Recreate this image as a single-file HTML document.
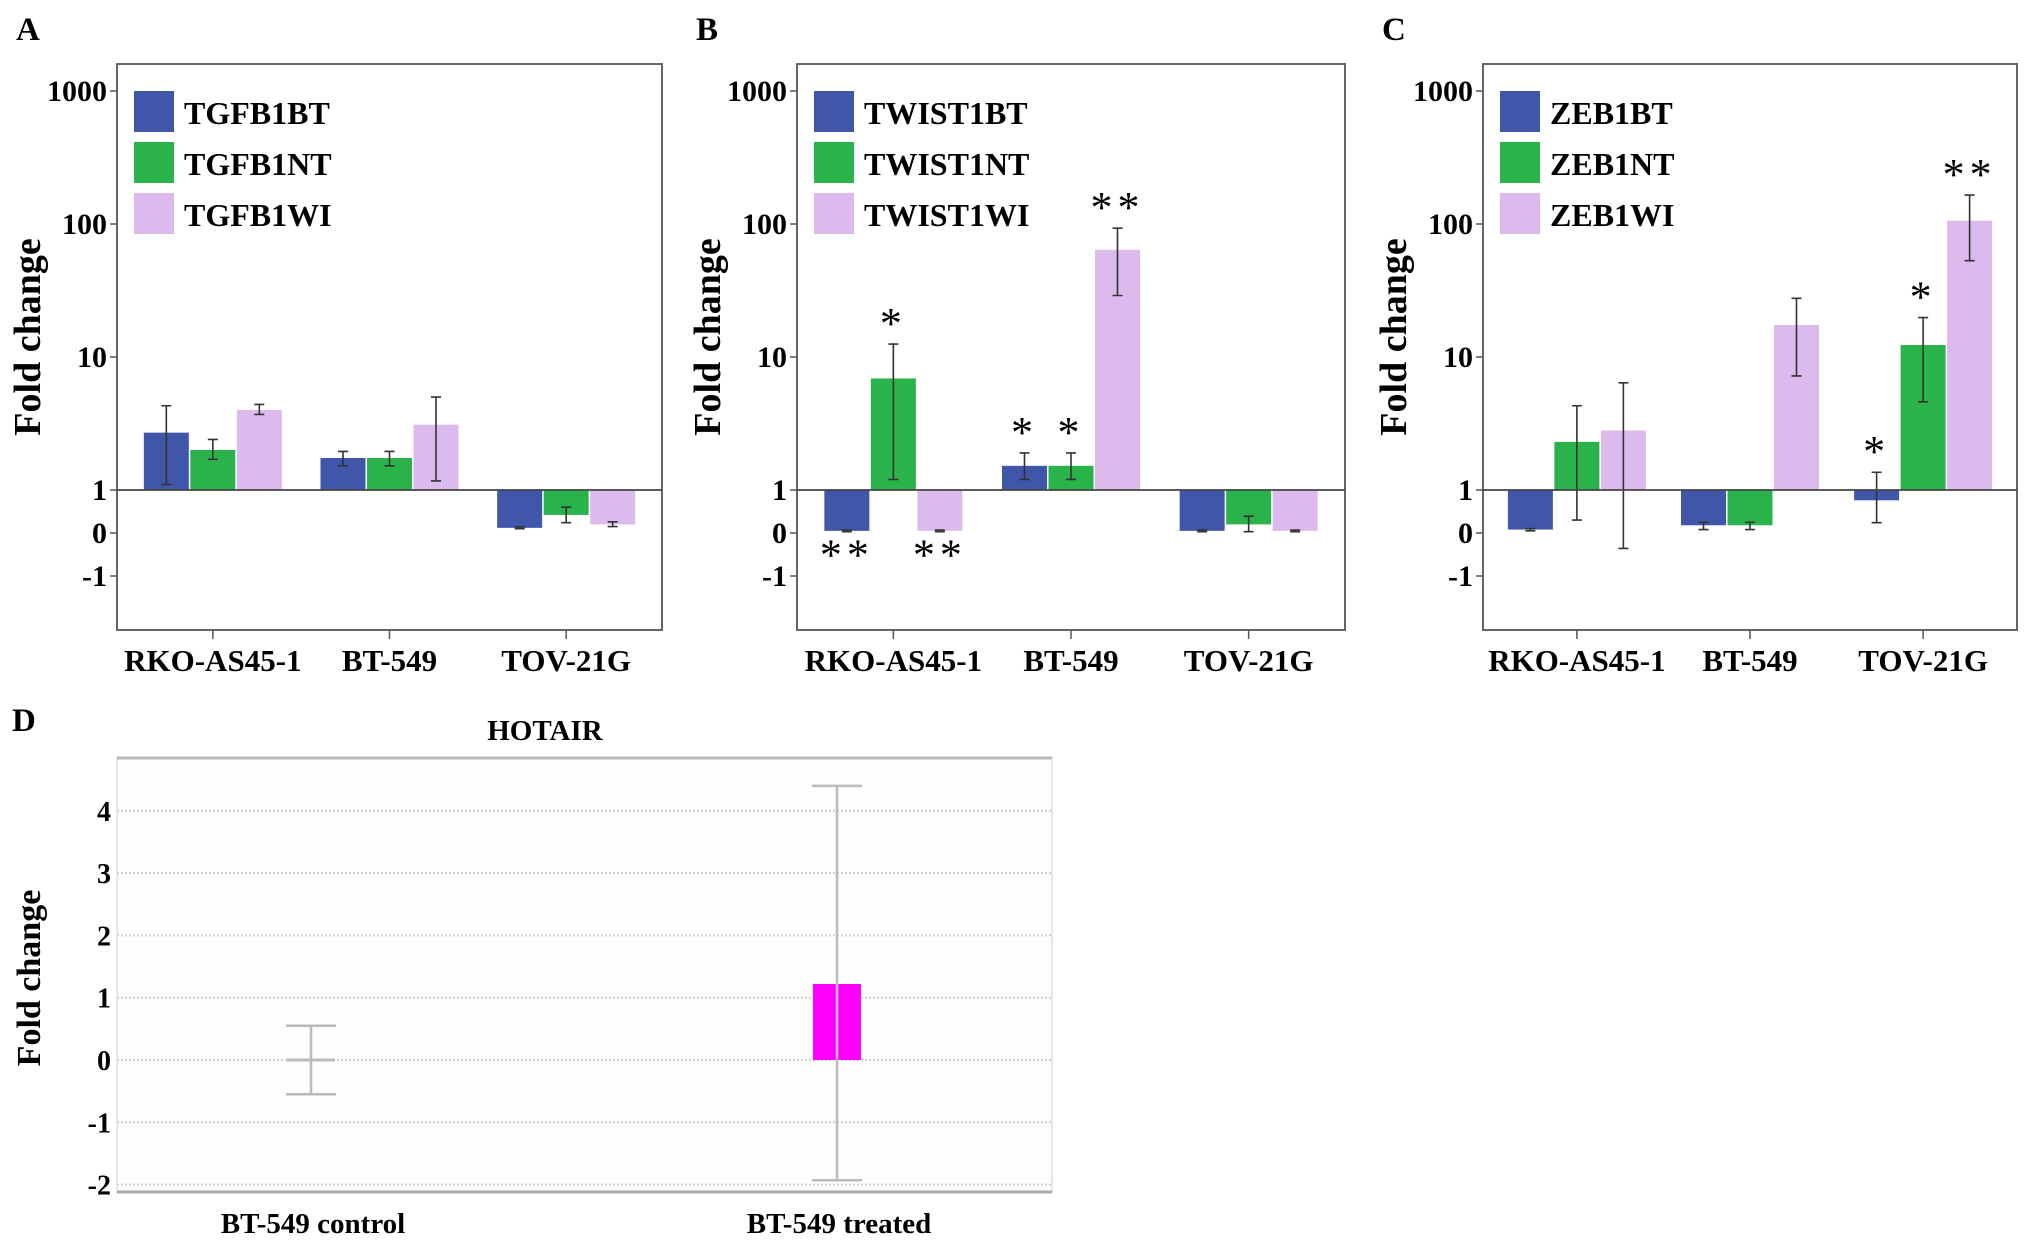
<!DOCTYPE html>
<html><head><meta charset="utf-8">
<style>
html,body{margin:0;padding:0;background:#fff;}
svg{display:block;font-family:"Liberation Serif",serif;font-weight:bold;}
text{font-family:"Liberation Serif",serif;}
</style></head>
<body>
<svg id="fig" width="2031" height="1246" viewBox="0 0 2031 1246" xmlns="http://www.w3.org/2000/svg">
<g id="panels"></g>
</svg>
<script>
// ---------- data ----------
const categories = ["RKO-AS45-1", "BT-549", "TOV-21G"];
const yTicks = [1000, 100, 10, 1];
const yTickLabels = ["1000", "100", "10", "1", "0", "-1"];

// Panel A (TGFB1)
const seriesA = ["TGFB1BT", "TGFB1NT", "TGFB1WI"];
const valuesA_BT = [2.7, 1.74, 0.12];
const valuesA_NT = [2.0, 1.74, 0.42];
const valuesA_WI = [4.0, 3.1, 0.2];
const errHiA_BT = [4.3, 1.95, 0.14];
const errLoA_BT = [1.1, 1.52, 0.1];
const errHiA_NT = [2.4, 1.95, 0.6];
const errLoA_NT = [1.7, 1.52, 0.24];
const errHiA_WI = [4.4, 5.0, 0.26];
const errLoA_WI = [3.7, 1.17, 0.15];
const starsA_BT = ["", "", ""];
const starsA_NT = ["", "", ""];
const starsA_WI = ["", "", ""];

// Panel B (TWIST1)
const seriesB = ["TWIST1BT", "TWIST1NT", "TWIST1WI"];
const valuesB_BT = [0.05, 1.52, 0.05];
const valuesB_NT = [6.9, 1.52, 0.2];
const valuesB_WI = [0.05, 64, 0.05];
const errHiB_BT = [0.07, 1.9, 0.07];
const errLoB_BT = [0.03, 1.2, 0.03];
const errHiB_NT = [12.5, 1.9, 0.39];
const errLoB_NT = [1.2, 1.2, 0.03];
const errHiB_WI = [0.07, 93, 0.07];
const errLoB_WI = [0.03, 29, 0.03];
const starsB_BT = ["**", "*", ""];
const starsB_NT = ["*", "*", ""];
const starsB_WI = ["**", "**", ""];

// Panel C (ZEB1)
const seriesC = ["ZEB1BT", "ZEB1NT", "ZEB1WI"];
const valuesC_BT = [0.08, 0.18, 0.76];
const valuesC_NT = [2.3, 0.18, 12.3];
const valuesC_WI = [2.8, 17.4, 106];
const errHiC_BT = [0.1, 0.25, 1.36];
const errLoC_BT = [0.05, 0.08, 0.24];
const errHiC_NT = [4.3, 0.25, 19.8];
const errLoC_NT = [0.3, 0.08, 4.6];
const errHiC_WI = [6.4, 27.6, 165];
const errLoC_WI = [-0.36, 7.2, 53];
const starsC_BT = ["", "", "*"];
const starsC_NT = ["", "", "*"];
const starsC_WI = ["", "", "**"];

// Panel D (HOTAIR)
const categoriesD = ["BT-549 control", "BT-549 treated"];
const valuesD = [0, 1.22];
const errHiD = [0.55, 4.4];
const errLoD = [-0.55, -1.93];
const yTicksD = [4, 3, 2, 1, 0, -1, -2];

// ---------- drawing ----------
const NS = "http://www.w3.org/2000/svg";
const root = document.getElementById("panels");
function mk(tag, attrs, parent, text) {
  const e = document.createElementNS(NS, tag);
  for (const k in attrs) e.setAttribute(k, attrs[k]);
  if (text !== undefined) e.textContent = text;
  (parent || root).appendChild(e);
  return e;
}
const COLORS = ["#3f56a9", "#2bb34b", "#dcbaee"];
const TOP = 64, BOT = 630, Y1 = 490, DEC = 133, LIN = 43;
function yv(v) { return v >= 1 ? Y1 - Math.log10(v) * DEC : Y1 + (1 - v) * LIN; }

function drawPanel(letter, fx0, fx1, series, vals, his, los, stars, key) {
  const g = mk("g", {});
  
  
  const t = mk("text", {x: fx0 - 101, y: 40, "font-size": 33}, g, letter);
  
  
  const fr = mk("rect", {x: fx0, y: TOP, width: fx1 - fx0, height: BOT - TOP, fill: "none", stroke: "#666", "stroke-width": 2}, g);
  
  
  const tickVals = [1000, 100, 10, 1, 0, -1];
  tickVals.forEach((tv, i) => {
    const y = yv(tv);
    mk("line", {x1: fx0 - 7, x2: fx0, y1: y, y2: y, stroke: "#555", "stroke-width": 1.5}, g);
    const lab = mk("text", {x: fx0 - 10, y: y + 10, "font-size": 30, "text-anchor": "end"}, g, yTickLabels[i]);
    
    
  });
  const yt = mk("text", {x: 0, y: 0, "font-size": 38, "text-anchor": "middle", transform: `translate(${fx0 - 77},337) rotate(-90)`}, g, "Fold change");
  
  
  const sc = (fx1 - fx0) / 546;
  const offs = [96, 273, 450].map(o => fx0 + o * sc);
  for (let s = 0; s < 3; s++) {
    for (let c = 0; c < 3; c++) {
      const v = vals[s][c];
      const cx = offs[c] + (s - 1) * 46.5;
      const y = yv(v);
      const r = mk("rect", {x: cx - 22.5, y: Math.min(y, Y1), width: 45, height: Math.max(1, Math.abs(Y1 - y)), fill: COLORS[s]}, g);
      
      
      const yh = yv(his[s][c]), yl = yv(los[s][c]);
      const eb = mk("path", {d: `M${cx},${yh}V${yl}M${cx - 5},${yh}H${cx + 5}M${cx - 5},${yl}H${cx + 5}`, stroke: "#333", "stroke-width": 1.6, fill: "none"}, g);
      
      
      const st = stars[s][c];
      if (st) {
        let sy;
        if (his[s][c] >= 1) sy = Math.min(yh, y) - 6;
        else sy = Math.max(y, yl) + 38;
        const sEl = mk("text", {x: cx, y: sy, "font-size": 44, "text-anchor": "middle", "letter-spacing": 5, "font-weight": "normal"}, g, st);
        
        
      }
    }
  }
  mk("line", {x1: fx0, x2: fx1, y1: Y1, y2: Y1, stroke: "#444", "stroke-width": 1.8}, g);
  categories.forEach((cat, c) => {
    mk("line", {x1: offs[c], x2: offs[c], y1: BOT, y2: BOT + 9, stroke: "#555", "stroke-width": 1.5}, g);
    const xl = mk("text", {x: offs[c], y: 671, "font-size": 31, "text-anchor": "middle"}, g, cat);
    
    
  });
  series.forEach((name, s) => {
    const ly = 91 + s * 51;
    const sw = mk("rect", {x: fx0 + 17, y: ly, width: 40, height: 41, fill: COLORS[s]}, g);
    
    
    const lt = mk("text", {x: fx0 + 67, y: ly + 33, "font-size": 32}, g, name);
    
    
  });
}

drawPanel("A", 117, 662, seriesA,
  [valuesA_BT, valuesA_NT, valuesA_WI], [errHiA_BT, errHiA_NT, errHiA_WI],
  [errLoA_BT, errLoA_NT, errLoA_WI], [starsA_BT, starsA_NT, starsA_WI], "a");
drawPanel("B", 797, 1345, seriesB,
  [valuesB_BT, valuesB_NT, valuesB_WI], [errHiB_BT, errHiB_NT, errHiB_WI],
  [errLoB_BT, errLoB_NT, errLoB_WI], [starsB_BT, starsB_NT, starsB_WI], "b");
drawPanel("C", 1483, 2017, seriesC,
  [valuesC_BT, valuesC_NT, valuesC_WI], [errHiC_BT, errHiC_NT, errHiC_WI],
  [errLoC_BT, errLoC_NT, errLoC_WI], [starsC_BT, starsC_NT, starsC_WI], "c");

(function () {
  const DX0 = 117, DX1 = 1052, DT = 758, DB = 1192, Y0 = 1060, UNIT = 62.3;
  const yd = v => Y0 - v * UNIT;
  const g = mk("g", {});
  
  
  const L = mk("text", {x: 12, y: 731, "font-size": 33}, g, "D");
  
  
  const ti = mk("text", {x: 545, y: 740, "font-size": 29, "text-anchor": "middle"}, g, "HOTAIR");
  
  
  mk("rect", {x: DX0, y: DT, width: DX1 - DX0, height: DB - DT, fill: "#fdfdfd", stroke: "#ddd", "stroke-width": 1.5}, g);
  mk("line", {x1: DX0, x2: DX1, y1: DT, y2: DT, stroke: "#bbb", "stroke-width": 3}, g);
  mk("line", {x1: DX0, x2: DX1, y1: DB, y2: DB, stroke: "#aaa", "stroke-width": 3}, g);
  yTicksD.forEach(tv => {
    const y = yd(tv);
    const gl = mk("line", {x1: DX0, x2: DX1, y1: y, y2: y, stroke: "#d0d0d0", "stroke-width": 2, "stroke-dasharray": "2 2"}, g);
    
    
    const lab = mk("text", {x: DX0 - 6, y: y + 10, "font-size": 28, "text-anchor": "end"}, g, String(tv));
    
    
  });
  const yt = mk("text", {x: 0, y: 0, "font-size": 34, "text-anchor": "middle", transform: "translate(40,978) rotate(-90)"}, g, "Fold change");
  
  
  const xs = [311, 837];
  categoriesD.forEach((cat, i) => {
    const cx = xs[i];
    const v = valuesD[i];
    if (v !== 0) {
      const r = mk("rect", {x: cx - 24, y: Math.min(yd(v), Y0), width: 48, height: Math.abs(Y0 - yd(v)), fill: "#ff00ff"}, g);
      
      
    } else {
      const r = mk("line", {x1: cx - 24, x2: cx + 24, y1: Y0, y2: Y0, stroke: "#bbb", "stroke-width": 3}, g);
      
      
    }
    const yh = yd(errHiD[i]), yl = yd(errLoD[i]);
    const eb = mk("path", {d: `M${cx},${yh}V${yl}M${cx - 25},${yh}H${cx + 25}M${cx - 25},${yl}H${cx + 25}`, stroke: "#bbb", "stroke-width": 2.5, fill: "none"}, g);
    
    
    const xl = mk("text", {x: cx + 2, y: 1233, "font-size": 29, "text-anchor": "middle"}, g, cat);
    
    
  });
})();
</script>
</body></html>
